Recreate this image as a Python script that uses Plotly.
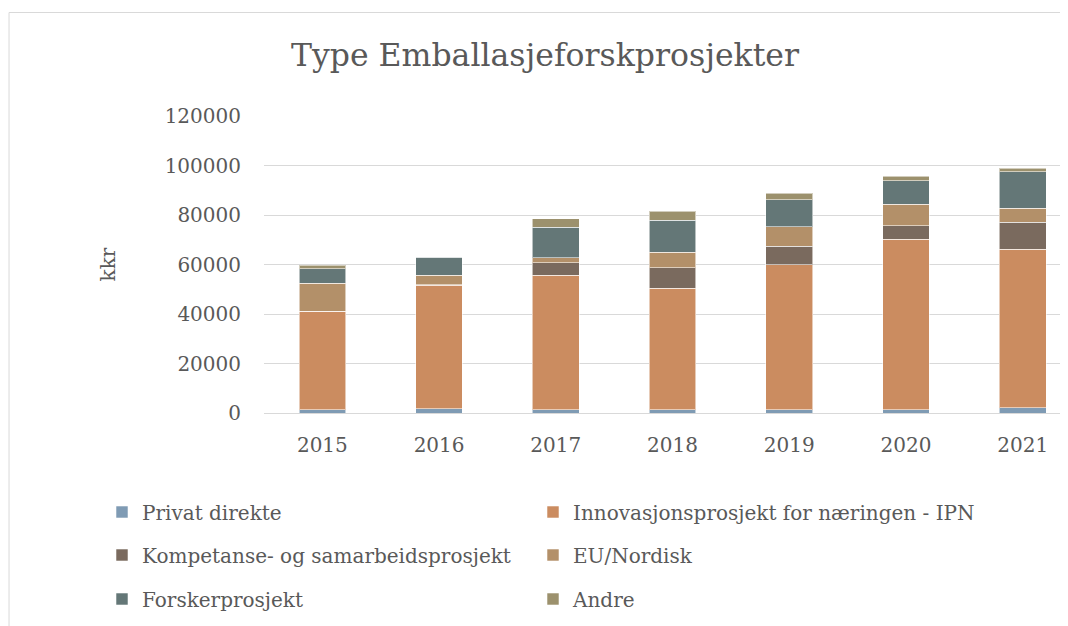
import plotly.graph_objects as go

years = ["2015", "2016", "2017", "2018", "2019", "2020", "2021"]
series_names = [
    "Privat direkte",
    "Innovasjonsprosjekt for næringen - IPN",
    "Kompetanse- og samarbeidsprosjekt",
    "EU/Nordisk",
    "Forskerprosjekt",
    "Andre",
]
privat = [1350, 1750, 1350, 1350, 1350, 1350, 2160]
ipn = [39780, 49770, 54350, 49090, 58530, 68910, 64060]
kompetanse = [0, 300, 4990, 8220, 7550, 5400, 10780]
eu_nordisk = [11200, 3900, 2020, 6210, 7820, 8630, 5670]
forsker = [5930, 7280, 12270, 12950, 10930, 9570, 14830]
andre = [1340, 0, 3510, 3640, 2560, 1890, 1490]
y_ticks = [0, 20000, 40000, 60000, 80000, 100000, 120000]

colors = ["#7F9BB4", "#CB8C60", "#7A6A5E", "#B39069", "#647777", "#9C916D"]
values = [privat, ipn, kompetanse, eu_nordisk, forsker, andre]

FONT = "DejaVu Serif"
TXT = "#595959"

# the page body has an 8px default margin: work in window pixels, shift by OFF
OFF = 8
W, H = 1068 - OFF, 626 - OFF
plot_l, plot_t, plot_b = 263.6 - OFF, 116 - OFF, 413 - OFF
cat_w = 116.78
right_end = 6 + (1068 - 1022.7) / cat_w


def cx(px):
    return (px - OFF) / W


def cy(py):
    return 1 - (py - OFF) / H


# legend grid: two columns, three rows (window pixels)
legend_cols = [102, 533]
legend_rows = [512, 555, 599]

fig = go.Figure()
legend_layouts = {}
for i, (name, vals, col) in enumerate(zip(series_names, values, colors)):
    lid = "legend" if i == 0 else f"legend{i + 1}"
    fig.add_trace(go.Bar(
        x=years, y=vals, name=name, legend=lid,
        marker=dict(color=col, line=dict(color="rgba(255,255,255,0.55)", width=1)),
    ))
    legend_layouts[lid] = dict(
        orientation="h", xref="container", yref="container",
        xanchor="left", yanchor="middle",
        x=cx(legend_cols[i % 2]), y=cy(legend_rows[i // 2]),
        font=dict(family=FONT, size=20, color=TXT),
        bgcolor="rgba(0,0,0,0)", borderwidth=0,
    )

fig.update_layout(
    width=W, height=H,
    paper_bgcolor="white", plot_bgcolor="white",
    margin=dict(l=plot_l, r=0, t=plot_t, b=H - plot_b, pad=0, autoexpand=False),
    barmode="stack", bargap=0.6,
    font=dict(family=FONT, size=20, color=TXT),
    title=dict(
        text="Type Emballasjeforskprosjekter",
        font=dict(family=FONT, size=31.5, color=TXT),
        x=cx(545), xanchor="center", xref="container",
        y=cy(55), yanchor="middle", yref="container",
    ),
    xaxis=dict(
        type="category", range=[-0.5, right_end],
        showgrid=False, showline=False, ticks="",
        ticklabelstandoff=18,
        tickfont=dict(family=FONT, size=20, color=TXT),
    ),
    yaxis=dict(
        range=[0, 120000], tickvals=y_ticks,
        tickformat="d",
        showgrid=True, gridcolor="#D9D9D9", gridwidth=1,
        zeroline=True, zerolinecolor="#D9D9D9", zerolinewidth=1,
        showline=False, ticks="",
        ticklabelstandoff=22,
        tickfont=dict(family=FONT, size=20, color=TXT),
        title=dict(text="kkr", standoff=43, font=dict(family=FONT, size=20, color=TXT)),
    ),
    showlegend=True,
    **legend_layouts,
)

# chart-area border (cropped on right and bottom like the reference)
fig.add_shape(
    type="rect", xref="paper", yref="paper",
    x0=(8.5 - 263.6) / (1068 - 263.6), x1=1.05,
    y0=-0.8, y1=(413 - 12.5) / (413 - 116),
    line=dict(color="#D9D9D9", width=1), fillcolor="rgba(0,0,0,0)",
    layer="below",
)

fig.write_html("out.html")
